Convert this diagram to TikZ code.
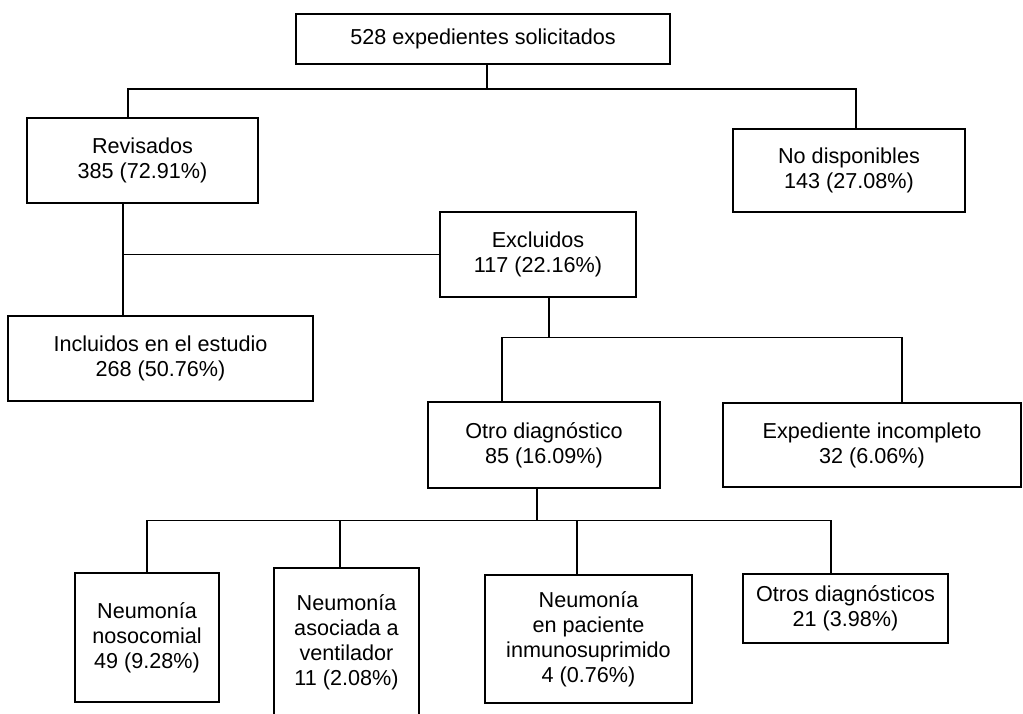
\documentclass[tikz,border=0pt]{standalone}
\usepackage{fontspec}
\setmainfont{Liberation Sans}
\usepackage{tikz}
\usetikzlibrary{positioning}
\usetikzlibrary{calc}
\tikzset{boxnode/.style={draw,line width=0.7pt,align=center,inner sep=2pt,font=\fontsize{12.3pt}{14.2pt}\selectfont},
         linkline/.style={line width=0.7pt}}

\begin{document}
\begin{tikzpicture}[x=0.02cm,y=-0.02cm]
    \useasboundingbox (0,0) rectangle (1023,713);
    \clip (0,0) rectangle (1023,713);
    \node at (483,39)      [boxnode,minimum width=7.48cm,minimum height=1.00cm] (nTop)  {528 expedientes solicitados};
    \node at (142.5,160.5) [boxnode,minimum width=4.62cm,minimum height=1.70cm] (nRev)  {Revisados\\385 (72.91\%)};
    \node at (849,170.5)   [boxnode,minimum width=4.64cm,minimum height=1.66cm] (nND)   {No disponibles\\143 (27.08\%)};
    \node at (538,254.5)   [boxnode,minimum width=3.92cm,minimum height=1.70cm] (nExc)  {Excluidos\\117 (22.16\%)};
    \node at (160.5,358.5) [boxnode,minimum width=6.10cm,minimum height=1.70cm] (nInc)  {Incluidos en el estudio\\268 (50.76\%)};
    \node at (544,445)     [boxnode,minimum width=4.64cm,minimum height=1.72cm] (nOtro) {Otro diagnóstico\\85 (16.09\%)};
    \node at (872,445)     [boxnode,minimum width=5.96cm,minimum height=1.68cm] (nExp)  {Expediente incompleto\\32 (6.06\%)};
    \node at (147,637.5)   [boxnode,minimum width=2.88cm,minimum height=2.58cm] (nNeuA) {Neumonía\\nosocomial\\49 (9.28\%)};
    \node at (346.5,642)   [boxnode,minimum width=2.90cm,minimum height=2.96cm] (nNeuB) {Neumonía\\asociada a\\ventilador\\11 (2.08\%)};
    \node at (588.5,639)   [boxnode,minimum width=4.14cm,minimum height=2.56cm] (nNeuC) {Neumonía\\en paciente\\inmunosuprimido\\4 (0.76\%)};
    \node at (845.5,608.5) [boxnode,minimum width=4.10cm,minimum height=1.38cm] (nOtros){Otros diagnósticos\\21 (3.98\%)};
    % first split
    \coordinate (jTop) at (487,89);
    \draw[linkline] (nTop.south -| jTop) -- (jTop);
    \draw[linkline] ([xshift=-0.29cm]nRev.north) |- (jTop) -| ([xshift=0.14cm]nND.north);
    % revisados
    \draw[linkline] ([xshift=-0.39cm]nRev.south) coordinate (jRev) -- (jRev |- nInc.north);
    \draw[linkline] (nExc.west) -- (nExc.west -| jRev);
    % excluidos
    \draw[linkline] ([xshift=0.22cm]nExc.south) -- ++(0,40) coordinate (jExc);
    \draw[linkline] ([xshift=-0.84cm]nOtro.north) |- (jExc) -| ([xshift=0.60cm]nExp.north);
    % otro diagnostico
    \draw[linkline] ([xshift=-0.14cm]nOtro.south) -- ++(0,32) coordinate (jOtro);
    \draw[linkline] (nNeuA.north) |- (jOtro) -| ([xshift=-0.29cm]nOtros.north);
    \draw[linkline] ([xshift=-0.13cm]nNeuB.north) -- ([xshift=-0.13cm]nNeuB.north |- jOtro);
    \draw[linkline] ([xshift=-0.23cm]nNeuC.north) -- ([xshift=-0.23cm]nNeuC.north |- jOtro);
\end{tikzpicture}
\end{document}
